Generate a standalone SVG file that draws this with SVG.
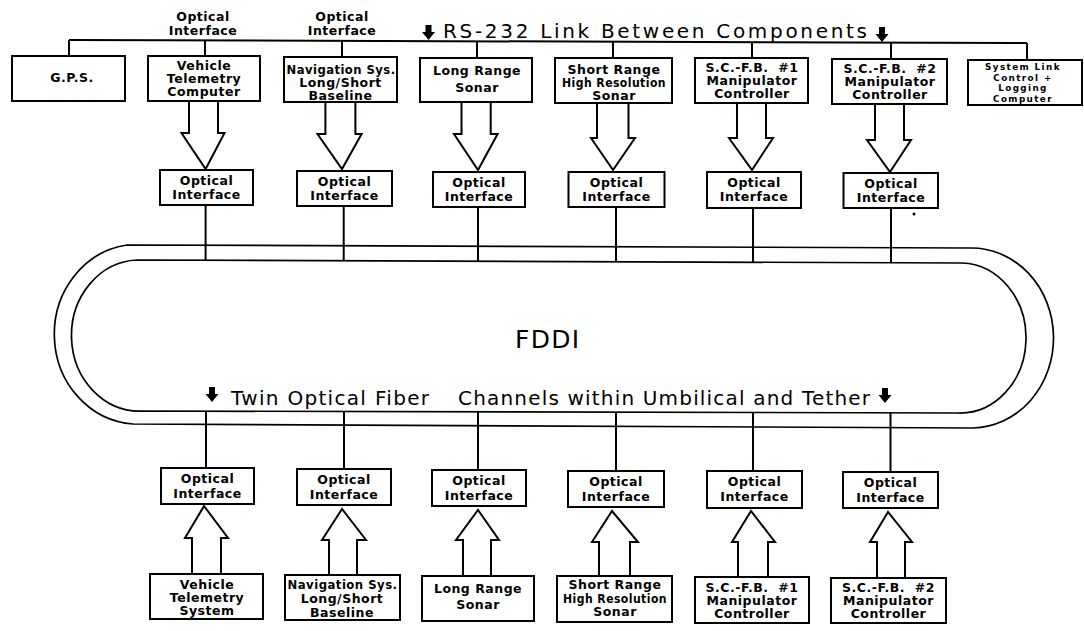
<svg xmlns="http://www.w3.org/2000/svg" width="1084" height="631" viewBox="0 0 1084 631">
<style>
.box{fill:#fff;stroke:#000;stroke-width:2}
.ln{fill:none;stroke:#000;stroke-width:2}
.ring{fill:none;stroke:#000;stroke-width:1.7}
.ba{fill:#fff;stroke:#000;stroke-width:2;stroke-linejoin:miter}
.t{font-family:"DejaVu Sans",sans-serif;font-weight:bold;font-size:12.5px;letter-spacing:0.5px;text-anchor:middle;fill:#000}
.ts{font-family:"DejaVu Sans",sans-serif;font-weight:bold;font-size:8.8px;letter-spacing:1.4px;text-anchor:middle;fill:#000}
.big{font-family:"DejaVu Sans",sans-serif;font-size:20px;fill:#000}
</style>
<defs>
<path id="darr" d="M-3,0 H3 V7 H6.5 L0,15 L-6.5,7 H-3 Z" fill="#000"/>
</defs>
<rect width="1084" height="631" fill="#fff"/>

<g id="connectors">
<line class="ln" x1="69" y1="40" x2="1027" y2="43"/>
<line class="ln" x1="69" y1="40" x2="69" y2="56"/>
<line class="ln" x1="205" y1="40.4" x2="205" y2="56"/>
<line class="ln" x1="342" y1="40.9" x2="342" y2="57"/>
<line class="ln" x1="477" y1="41.3" x2="477" y2="58"/>
<line class="ln" x1="613" y1="41.7" x2="613" y2="58"/>
<line class="ln" x1="752" y1="42.1" x2="752" y2="58"/>
<line class="ln" x1="891" y1="42.6" x2="891" y2="59"/>
<line class="ln" x1="1027" y1="43" x2="1027" y2="60"/>
<use href="#darr" x="428.5" y="25"/>
<use href="#darr" x="882" y="27"/>
<text class="big" x="443" y="38" textLength="424" lengthAdjust="spacing">RS-232 Link Between Components</text>

<polygon class="ba" points="189,101 189,133 181.5,133 205.6,169 224.5,133 218,133 218,101"/>
<polygon class="ba" points="325.4,102 325.4,134 317.5,134 342,169 361.6,134 355.4,134 355.4,102"/>
<polygon class="ba" points="461.5,102 461.5,134 454,134 478,170 497.6,134 490.7,134 490.7,102"/>
<polygon class="ba" points="597,103 597,138 591,138 613,170 635,138 628.5,138 628.5,103"/>
<polygon class="ba" points="737,103 737,138 729,138 752,170 773,138 766,138 766,103"/>
<polygon class="ba" points="875,104 875,140 867,140 890,172 911,140 904,140 904,104"/>

<line class="ln" x1="205.6" y1="205" x2="205.6" y2="260.2"/>
<line class="ln" x1="343.7" y1="206" x2="343.7" y2="260.8"/>
<line class="ln" x1="478" y1="207" x2="478" y2="261.2"/>
<line class="ln" x1="616" y1="207" x2="616" y2="261.7"/>
<line class="ln" x1="753" y1="208" x2="753" y2="262.2"/>
<line class="ln" x1="891" y1="208" x2="891" y2="262.7"/>
<circle cx="914" cy="214" r="1.5" fill="#000"/>

<line class="ln" x1="206" y1="411.2" x2="206" y2="468"/>
<line class="ln" x1="344" y1="411.5" x2="344" y2="469"/>
<line class="ln" x1="478" y1="411.8" x2="478" y2="470"/>
<line class="ln" x1="616" y1="412.2" x2="616" y2="471"/>
<line class="ln" x1="753" y1="412.5" x2="753" y2="471"/>
<line class="ln" x1="890.5" y1="412.8" x2="890.5" y2="472"/>

<polygon class="ba" points="192,574 192,538 185,538 204,506 228,538 221,538 221,574"/>
<polygon class="ba" points="329,575 329,540 322,540 342,509 366,540 357,540 357,575"/>
<polygon class="ba" points="463,576 463,540 456,540 478,510 499,540 491,540 491,576"/>
<polygon class="ba" points="599,577 599,542 592,542 612,511 638,542 630,542 630,577"/>
<polygon class="ba" points="738,577 738,542 732,542 751,511 775,542 768,542 768,577"/>
<polygon class="ba" points="877,578 877,542 870,542 888,512 912,542 905,542 905,578"/>
</g>

<g id="ring">
<path class="ring" d="M127,245 L970,248 A82,90 0 0 1 973,428 L133,424 A84,90 0 0 1 127,245 Z"/>
<path class="ring" d="M137,260 L962,263 A66,75 0 0 1 958,413 L142,411 A68,75.5 0 0 1 137,260 Z"/>
<text x="515" y="348" textLength="64" lengthAdjust="spacing" style="font-family:'DejaVu Sans',sans-serif;font-size:25px;fill:#000">FDDI</text>
<use href="#darr" x="212" y="387"/>
<use href="#darr" x="885" y="388"/>
<text class="big" x="231" y="405" textLength="198" lengthAdjust="spacing">Twin Optical Fiber</text>
<text class="big" x="458" y="405" textLength="412" lengthAdjust="spacing">Channels within Umbilical and Tether</text>
</g>

<g id="label-oi-1"><text class="t" x="203" y="21">Optical</text><text class="t" x="203" y="35">Interface</text></g>
<g id="label-oi-2"><text class="t" x="342" y="21">Optical</text><text class="t" x="342" y="35">Interface</text></g>

<g id="gps"><rect class="box" x="12" y="56" width="113" height="45"/><text class="t" x="72" y="82">G.P.S.</text></g>
<g id="vtc"><rect class="box" x="148" y="56" width="112" height="45"/><text class="t" x="204" y="70">Vehicle</text><text class="t" x="204" y="83">Telemetry</text><text class="t" x="204" y="96">Computer</text></g>
<g id="nav-top"><rect class="box" x="284" y="57" width="113" height="45"/><text class="t" x="341" y="74" textLength="109" lengthAdjust="spacingAndGlyphs">Navigation Sys.</text><text class="t" x="340.5" y="87">Long/Short</text><text class="t" x="340.5" y="100">Baseline</text></g>
<g id="lrs-top"><rect class="box" x="420" y="58" width="112" height="44"/><text class="t" x="477" y="75">Long Range</text><text class="t" x="477" y="92">Sonar</text></g>
<g id="srs-top"><rect class="box" x="555" y="58" width="117" height="45"/><text class="t" x="614" y="74">Short Range</text><text class="t" x="614" y="87" textLength="104" lengthAdjust="spacingAndGlyphs">High Resolution</text><text class="t" x="614" y="100">Sonar</text></g>
<g id="scfb1-top"><rect class="box" x="695" y="58" width="113" height="45"/><text class="t" x="752" y="72" xml:space="preserve">S.C.-F.B.  #1</text><text class="t" x="752" y="85">Manipulator</text><text class="t" x="752" y="98">Controller</text></g>
<g id="scfb2-top"><rect class="box" x="832" y="59" width="115" height="45"/><text class="t" x="890" y="73" xml:space="preserve">S.C.-F.B.  #2</text><text class="t" x="890" y="86">Manipulator</text><text class="t" x="890" y="99">Controller</text></g>
<g id="syslink"><rect class="box" x="968" y="60" width="114" height="45"/><text class="ts" x="1023" y="70">System Link</text><text class="ts" x="1023" y="80.6">Control +</text><text class="ts" x="1023" y="91.2">Logging</text><text class="ts" x="1023" y="101.8">Computer</text></g>

<g id="oi-top-1"><rect class="box" x="160" y="170" width="93" height="35"/><text class="t" x="206.5" y="185">Optical</text><text class="t" x="206.5" y="199">Interface</text></g>
<g id="oi-top-2"><rect class="box" x="297" y="171" width="95" height="35"/><text class="t" x="344.5" y="186">Optical</text><text class="t" x="344.5" y="200">Interface</text></g>
<g id="oi-top-3"><rect class="box" x="433" y="172" width="92" height="35"/><text class="t" x="479" y="187">Optical</text><text class="t" x="479" y="201">Interface</text></g>
<g id="oi-top-4"><rect class="box" x="568.5" y="172" width="96" height="35"/><text class="t" x="616.5" y="187">Optical</text><text class="t" x="616.5" y="201">Interface</text></g>
<g id="oi-top-5"><rect class="box" x="707" y="172" width="94" height="36"/><text class="t" x="754" y="187">Optical</text><text class="t" x="754" y="201">Interface</text></g>
<g id="oi-top-6"><rect class="box" x="843.5" y="173" width="94.5" height="35"/><text class="t" x="891" y="188">Optical</text><text class="t" x="891" y="202">Interface</text></g>

<g id="oi-bot-1"><rect class="box" x="161" y="468" width="93" height="36"/><text class="t" x="207.5" y="483">Optical</text><text class="t" x="207.5" y="498">Interface</text></g>
<g id="oi-bot-2"><rect class="box" x="297" y="469" width="94" height="36"/><text class="t" x="344" y="484">Optical</text><text class="t" x="344" y="499">Interface</text></g>
<g id="oi-bot-3"><rect class="box" x="432" y="470" width="94" height="36"/><text class="t" x="479" y="485">Optical</text><text class="t" x="479" y="500">Interface</text></g>
<g id="oi-bot-4"><rect class="box" x="568" y="471" width="96" height="36"/><text class="t" x="616" y="486">Optical</text><text class="t" x="616" y="501">Interface</text></g>
<g id="oi-bot-5"><rect class="box" x="707" y="471" width="95" height="37"/><text class="t" x="754.5" y="486">Optical</text><text class="t" x="754.5" y="501">Interface</text></g>
<g id="oi-bot-6"><rect class="box" x="843" y="472" width="95" height="36"/><text class="t" x="890.5" y="487">Optical</text><text class="t" x="890.5" y="502">Interface</text></g>

<g id="vts"><rect class="box" x="150" y="574" width="113" height="45"/><text class="t" x="207" y="589">Vehicle</text><text class="t" x="207" y="602">Telemetry</text><text class="t" x="207" y="615">System</text></g>
<g id="nav-bot"><rect class="box" x="285" y="575" width="115" height="45"/><text class="t" x="342.5" y="589" textLength="110" lengthAdjust="spacingAndGlyphs">Navigation Sys.</text><text class="t" x="342" y="603">Long/Short</text><text class="t" x="342" y="617">Baseline</text></g>
<g id="lrs-bot"><rect class="box" x="422" y="576" width="112" height="45"/><text class="t" x="478" y="593">Long Range</text><text class="t" x="478" y="609">Sonar</text></g>
<g id="srs-bot"><rect class="box" x="557" y="576" width="115" height="46"/><text class="t" x="615" y="589">Short Range</text><text class="t" x="615" y="603" textLength="104" lengthAdjust="spacingAndGlyphs">High Resolution</text><text class="t" x="615" y="616">Sonar</text></g>
<g id="scfb1-bot"><rect class="box" x="695" y="577" width="114" height="46"/><text class="t" x="752" y="592" xml:space="preserve">S.C.-F.B.  #1</text><text class="t" x="752" y="605">Manipulator</text><text class="t" x="752" y="618">Controller</text></g>
<g id="scfb2-bot"><rect class="box" x="831" y="578" width="115" height="45"/><text class="t" x="888.5" y="592" xml:space="preserve">S.C.-F.B.  #2</text><text class="t" x="888.5" y="605">Manipulator</text><text class="t" x="888.5" y="618">Controller</text></g>
</svg>
